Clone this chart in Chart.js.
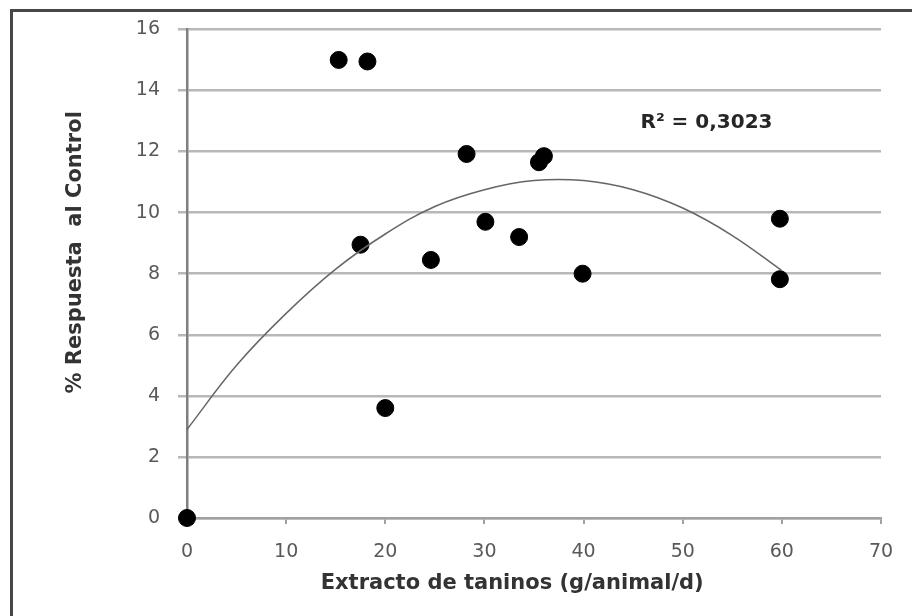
<!DOCTYPE html>
<html>
<head>
<meta charset="utf-8">
<script src="https://cdn.jsdelivr.net/npm/chart.js"></script>
<style>
  html, body { margin: 0; padding: 0; background: #fff; }
  #wrap { position: relative; width: 912px; height: 616px; overflow: hidden; }
  #frame { position: absolute; left: 10px; top: 9px; width: 912px; height: 616px;
           border-top: 3px solid #474747; border-left: 3px solid #474747; }
  canvas { position: absolute; left: 0; top: 0; }
</style>
</head>
<body>
<div id="wrap">
  <div id="frame"></div>
  <canvas id="chart" width="912" height="616"></canvas>
</div>
<script>
// observed points
const tanninX = [0, 15.3, 18.2, 17.5, 20, 24.6, 28.2, 30.1, 33.5, 35.5, 36, 39.9, 59.8, 59.8];
const responseY = [0, 15.0, 14.95, 8.95, 3.6, 8.45, 11.92, 9.7, 9.2, 11.65, 11.85, 8.0, 9.8, 7.82];

// polynomial trend line
const trendX = [0, 5, 10, 15, 20, 25, 30, 35, 40, 45, 50, 55, 60];
const trendY = [2.9, 5.0, 6.7, 8.15, 9.3, 10.2, 10.75, 11.05, 11.05, 10.75, 10.15, 9.25, 8.1];

const xTicks = [0, 10, 20, 30, 40, 50, 60, 70];
const yTicks = [0, 2, 4, 6, 8, 10, 12, 14, 16];
const xTitle = "Extracto de taninos (g/animal/d)";
const yTitle = "% Respuesta  al Control";
const r2Label = "R² = 0,3023";

const FONT = "'DejaVu Sans', sans-serif";

// R² note in data space; axis titles sit a bit off the axis centres, like the original
const notesPlugin = {
  id: "notes",
  afterDatasetsDraw(chart) {
    const { ctx, scales } = chart;
    ctx.save();
    ctx.textAlign = "center";
    ctx.textBaseline = "middle";
    ctx.fillStyle = "#262626";
    ctx.font = "bold 20px " + FONT;
    ctx.fillText(r2Label, scales.x.getPixelForValue(52.4), scales.y.getPixelForValue(12.95));
    ctx.fillStyle = "#333";
    ctx.font = "bold 21px " + FONT;
    ctx.fillText(xTitle, scales.x.getPixelForValue(32.8), 584);
    ctx.translate(76, scales.y.getPixelForValue(8.7));
    ctx.rotate(-Math.PI / 2);
    ctx.fillText(yTitle, 0, 0);
    ctx.restore();
  }
};

new Chart(document.getElementById("chart"), {
  type: "scatter",
  data: {
    datasets: [
      {
        label: "trend",
        type: "line",
        data: trendX.map((x, i) => ({ x, y: trendY[i] })),
        borderColor: "#666",
        borderWidth: 1.5,
        pointRadius: 0,
        tension: 0.4,
        fill: false,
        clip: false
      },
      {
        label: "datos",
        data: tanninX.map((x, i) => ({ x, y: responseY[i] })),
        backgroundColor: "#000",
        borderColor: "#000",
        pointRadius: 8.5,
        pointHoverRadius: 8.5,
        clip: false
      }
    ]
  },
  options: {
    responsive: false,
    animation: false,
    layout: { padding: { top: 27, right: 31, left: 0, bottom: 0 } },
    plugins: { legend: { display: false }, tooltip: { enabled: false } },
    scales: {
      x: {
        type: "linear",
        min: 0, max: 70,
        afterBuildTicks: s => { s.ticks = xTicks.map(v => ({ value: v })); },
        afterFit: s => { s.height = 98; },
        border: { color: "#a0a0a0", width: 2.5 },
        grid: { drawOnChartArea: false, drawTicks: true, tickLength: 6, color: "#a0a0a0", lineWidth: 2 },
        ticks: { color: "#595959", font: { family: FONT, size: 19 }, padding: 17 },
        title: { display: false }
      },
      y: {
        min: 0, max: 16,
        afterBuildTicks: s => { s.ticks = yTicks.map(v => ({ value: v })); },
        afterFit: s => { s.width = 187; },
        border: { color: "#7f7f7f", width: 2.5 },
        grid: { color: "#b8b8b8", lineWidth: 2.5, tickLength: 9 },
        ticks: { color: "#595959", font: { family: FONT, size: 19 }, padding: 18 },
        title: { display: false }
      }
    }
  },
  plugins: [notesPlugin]
});
</script>
</body>
</html>
